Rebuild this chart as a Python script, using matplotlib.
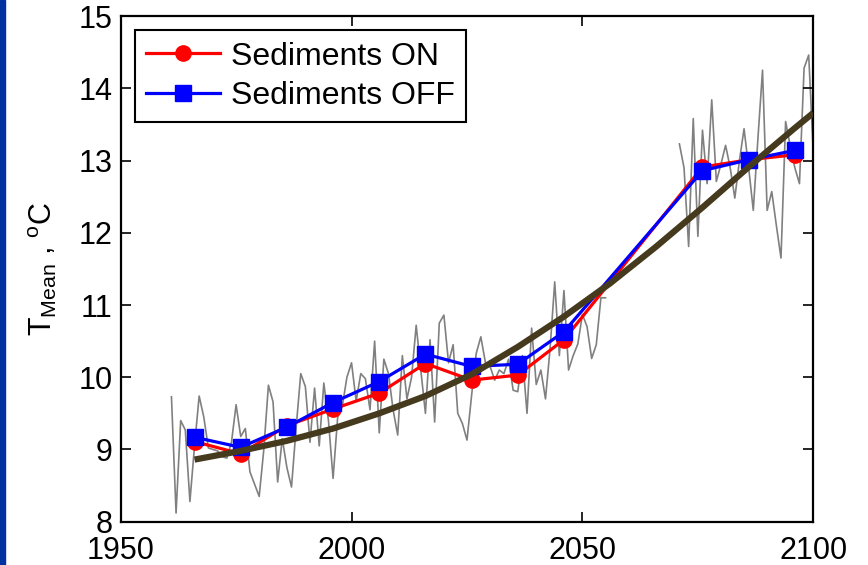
import numpy as np
import matplotlib
matplotlib.use("Agg")
import matplotlib.pyplot as plt

plt.rcParams['font.family'] = ['Liberation Sans', 'DejaVu Sans']
plt.rcParams['mathtext.fontset'] = 'custom'
plt.rcParams['mathtext.rm'] = 'Liberation Sans'

# annual mean temperature (grey)
years_a = np.arange(1961, 2056)
temp_a = [9.73, 8.12, 9.40, 9.27, 8.28, 9.05, 9.74, 9.45, 9.02, 9.00,
          8.98, 8.90, 8.88, 9.10, 9.62, 9.18, 9.29, 8.69, 8.52, 8.35,
          9.00, 9.89, 9.66, 8.55, 9.15, 8.75, 8.48, 9.30, 10.05, 9.87,
          9.10, 9.85, 9.05, 9.92, 9.40, 8.60, 9.45, 9.60, 10.00, 10.20,
          9.67, 10.05, 9.98, 9.55, 10.50, 9.23, 10.25, 10.05, 9.55, 9.20,
          10.30, 9.70, 10.00, 10.72, 10.10, 9.50, 10.52, 9.38, 10.75, 10.86,
          10.20, 10.45, 9.50, 9.36, 9.13, 9.75, 10.33, 10.56, 10.20, 10.15,
          9.96, 10.10, 10.05, 10.25, 9.82, 9.80, 10.30, 9.50, 10.68, 9.90,
          10.10, 9.70, 10.40, 11.32, 10.30, 11.20, 10.10, 10.30, 10.46, 10.87,
          10.70, 10.26, 10.45, 11.10, 11.10]
years_b = np.arange(2071, 2101)
temp_b = [13.23, 12.90, 11.81, 13.58, 11.95, 13.42, 12.68, 13.84, 12.71, 12.95,
          13.21, 12.90, 12.48, 13.00, 13.44, 12.90, 12.31, 13.30, 14.25, 12.31,
          12.57, 12.10, 11.65, 13.54, 13.20, 12.90, 12.68, 14.28, 14.46, 13.10]

# decadal means
dec_years = [1966, 1976, 1986, 1996, 2006, 2016, 2026, 2036, 2046, 2076, 2086, 2096]
sed_on = [9.11, 8.94, 9.33, 9.56, 9.78, 10.19, 9.96, 10.03, 10.52, 12.91, 13.01, 13.08]
sed_off = [9.17, 9.03, 9.31, 9.65, 9.94, 10.32, 10.15, 10.18, 10.63, 12.86, 13.01, 13.14]

# smooth trend curve
fit_years = [1966, 1976, 1986, 1996, 2006, 2016, 2026, 2036, 2046, 2056, 2066, 2076, 2086, 2096, 2100]
fit_temp = [8.86, 8.98, 9.12, 9.29, 9.50, 9.74, 10.04, 10.42, 10.84, 11.30, 11.81, 12.35, 12.91, 13.45, 13.66]

fig = plt.figure(figsize=(8.68, 5.65), dpi=100)
ax = fig.add_axes([0.139, 0.0766, 0.798, 0.895])

# blue strip at the left edge
fig.patches.append(plt.Rectangle((0, 0), 0.006, 1, transform=fig.transFigure,
                                 color='#0033a0', zorder=0))

ax.plot(years_a, temp_a, color='#808080', lw=1.2, zorder=1)
ax.plot(years_b, temp_b, color='#808080', lw=1.2, zorder=1)
on_line, = ax.plot(dec_years, sed_on, 'o-', color='#ff0000', lw=2.3, ms=11,
                   label='Sediments ON', zorder=3)
off_line, = ax.plot(dec_years, sed_off, 's-', color='#0000ff', lw=2.3, ms=11,
                    label='Sediments OFF', zorder=4)
ax.plot(fit_years, fit_temp, '-', color='#463a1e', lw=4.5, zorder=5,
        solid_capstyle='butt')

ax.set_xlim(1950, 2100)
ax.set_ylim(8, 15)
ax.set_xticks([1950, 2000, 2050, 2100])
ax.set_yticks(range(8, 16))
ax.tick_params(direction='in', length=7, width=1.2, labelsize=22,
               top=True, right=True)
ax.tick_params(axis='x', pad=10)
ax.tick_params(axis='y', pad=6)
for s in ax.spines.values():
    s.set_linewidth(1.6)

ax.set_ylabel(r'T$_{\mathrm{Mean}}$ , $^{\mathrm{o}}$C', fontsize=22, labelpad=14)

leg = ax.legend(handles=[on_line, off_line], loc='upper left', fontsize=23,
                fancybox=False, edgecolor='black', framealpha=1,
                handlelength=2.3, borderaxespad=0.45, borderpad=0.35,
                labelspacing=0.3, handletextpad=0.35)
leg.get_frame().set_linewidth(1.5)

fig.savefig('out.png', dpi=100)
